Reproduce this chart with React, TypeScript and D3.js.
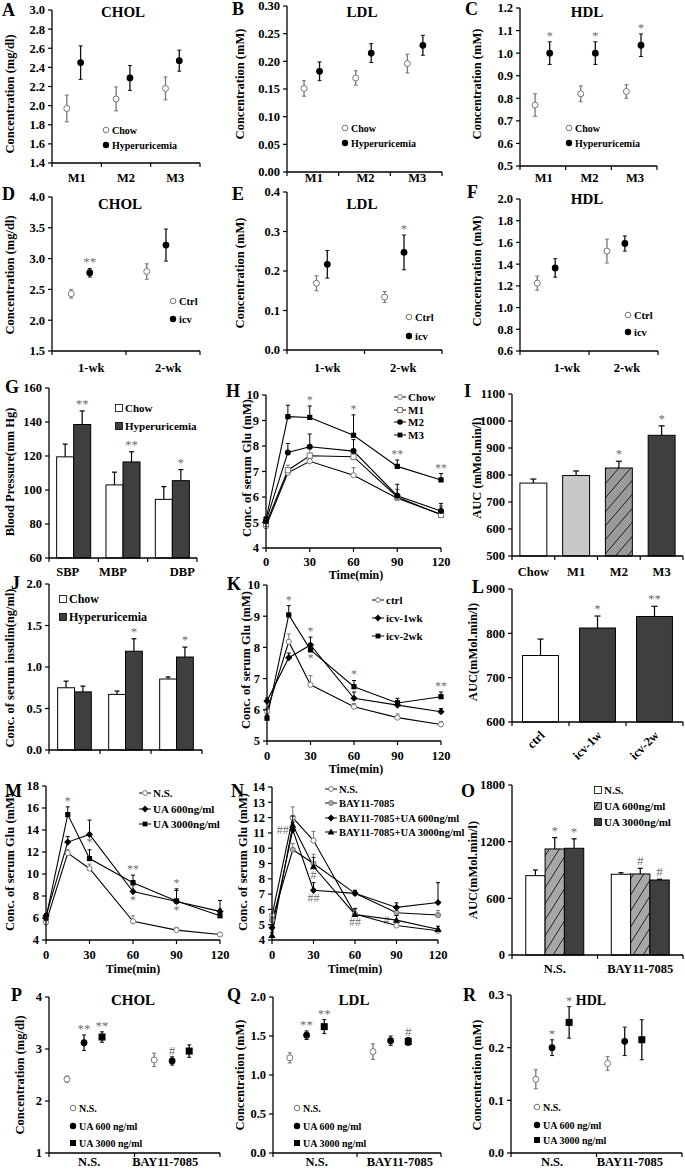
import React from "react";
import * as d3 from "d3";

const FONT = "'Liberation Serif','Times New Roman',Times,serif";

// ================= DATA =================
// Row 1 (A-C)
const catsM = ["M1", "M2", "M3"];
const aChow = [1.97, 2.07, 2.18];
const aChowErr = [0.14, 0.125, 0.12];
const aHyper = [2.45, 2.29, 2.47];
const aHyperErr = [0.175, 0.13, 0.11];
const aTicks = [1.4, 1.6, 1.8, 2.0, 2.2, 2.4, 2.6, 2.8, 3.0];

const bChow = [0.151, 0.17, 0.196];
const bChowErr = [0.014, 0.013, 0.017];
const bHyper = [0.182, 0.215, 0.229];
const bHyperErr = [0.017, 0.017, 0.018];
const bTicks = [0, 0.05, 0.1, 0.15, 0.2, 0.25, 0.3];

const cChow = [0.77, 0.82, 0.83];
const cChowErr = [0.05, 0.035, 0.03];
const cHyper = [1.0, 1.0, 1.035];
const cHyperErr = [0.05, 0.05, 0.05];
const cHyperStars = ["*", "*", "*"];
const cTicks = [0.5, 0.6, 0.7, 0.8, 0.9, 1.0, 1.1, 1.2];

// Row 2 (D-F)
const catsWk = ["1-wk", "2-wk"];
const dCtrl = [2.43, 2.79];
const dCtrlErr = [0.07, 0.125];
const dIcv = [2.77, 3.22];
const dIcvErr = [0.07, 0.26];
const dIcvStars = ["**", ""];
const dTicks = [1.5, 2.0, 2.5, 3.0, 3.5, 4.0];

const eCtrl = [0.169, 0.134];
const eCtrlErr = [0.019, 0.014];
const eIcv = [0.217, 0.247];
const eIcvErr = [0.035, 0.044];
const eIcvStars = ["", "*"];
const eTicks = [0, 0.1, 0.2, 0.3, 0.4];

const fCtrl = [1.225, 1.52];
const fCtrlErr = [0.065, 0.11];
const fIcv = [1.365, 1.59];
const fIcvErr = [0.085, 0.07];
const fTicks = [0.6, 0.8, 1.0, 1.2, 1.4, 1.6, 1.8, 2.0];

// Row 3 (G-I)
const catsBP = ["SBP", "MBP", "DBP"];
const gChow = [119.5, 103, 94.5];
const gChowErr = [7.5, 7.5, 7.5];
const gHyper = [138.5, 116.5, 105.5];
const gHyperErr = [8, 6, 6.5];
const gHyperStars = ["**", "**", "*"];
const gTicks = [60, 80, 100, 120, 140, 160];

const times = [0, 15, 30, 60, 90, 120];
const timeTicks = [0, 30, 60, 90, 120];
const hChow = [4.85, 6.95, 7.4, 6.85, 5.95, 5.32];
const hChowErr = [0.1, 0.15, 0.2, 0.3, 0.35, 0.35];
const hM1 = [4.95, 7.05, 7.62, 7.58, 6.0, 5.3];
const hM1Err = [0.1, 0.2, 0.3, 0.3, 0.3, 0.3];
const hM2 = [5.05, 7.75, 7.97, 7.8, 6.05, 5.45];
const hM2Err = [0.1, 0.35, 0.5, 0.45, 0.45, 0.3];
const hM3 = [5.12, 9.15, 9.12, 8.42, 7.2, 6.67];
const hM3Err = [0.1, 0.45, 0.45, 0.8, 0.25, 0.25];
const hTicks = [4, 5, 6, 7, 8, 9, 10];

const catsAUC = ["Chow", "M1", "M2", "M3"];
const iAUC = [770, 798, 826, 947];
const iAUCErr = [15, 17, 25, 35];
const iAUCStars = ["", "", "*", "*"];
const iTicks = [500, 600, 700, 800, 900, 1000, 1100];

// Row 4 (J-L)
const catsJ = ["a", "b", "c"];
const jChow = [0.75, 0.67, 0.855];
const jChowErr = [0.08, 0.04, 0.025];
const jHyper = [0.7, 1.19, 1.12];
const jHyperErr = [0.07, 0.15, 0.12];
const jHyperStars = ["", "*", "*"];
const jTicks = [0, 0.5, 1.0, 1.5, 2.0];

const kCtrl = [5.95, 8.18, 6.8, 6.1, 5.75, 5.53];
const kCtrlErr = [0.1, 0.25, 0.3, 0.1, 0.12, 0.1];
const kIcv1 = [6.28, 7.67, 8.08, 6.37, 6.15, 5.94];
const kIcv1Err = [0.1, 0.15, 0.25, 0.2, 0.15, 0.1];
const kIcv2 = [5.73, 9.04, 7.92, 6.74, 6.22, 6.42];
const kIcv2Err = [0.1, 0.3, 0.2, 0.2, 0.15, 0.15];
const kTicks = [5, 6, 7, 8, 9, 10];

const catsIcv = ["ctrl", "icv-1w", "icv-2w"];
const lAUC = [750, 812, 838];
const lAUCErr = [37, 27, 23];
const lAUCStars = ["", "*", "**"];
const lTicks = [600, 700, 800, 900];

// Row 5 (M-O)
const mNS = [5.6, 11.9, 10.5, 5.7, 4.9, 4.5];
const mNSErr = [0.1, 0.3, 0.4, 0.5, 0.25, 0.15];
const mUA600 = [6.2, 12.9, 13.6, 8.4, 7.5, 6.6];
const mUA600Err = [0.2, 0.5, 1.3, 1.0, 1.0, 1.0];
const mUA3000 = [6.0, 15.4, 11.4, 9.2, 7.55, 6.2];
const mUA3000Err = [0.2, 0.7, 0.8, 0.7, 1.1, 0.6];
const mTicks = [4, 6, 8, 10, 12, 14, 16, 18];

const nNS = [5.6, 12.0, 10.5, 5.7, 4.95, 4.6];
const nNSErr = [0.1, 0.7, 0.6, 0.3, 0.2, 0.15];
const nBay = [5.3, 9.9, 9.0, 7.05, 5.78, 5.63];
const nBayErr = [0.2, 0.4, 0.6, 0.2, 0.3, 0.3];
const nBay600 = [4.8, 11.2, 7.25, 7.05, 6.13, 6.45];
const nBay600Err = [0.2, 0.5, 0.5, 0.2, 0.3, 1.3];
const nBay3000 = [4.3, 11.5, 8.8, 5.67, 5.3, 4.7];
const nBay3000Err = [0.2, 0.6, 0.6, 0.4, 0.3, 0.2];
const nTicks = [4, 5, 6, 7, 8, 9, 10, 11, 12, 13, 14];

const catsBay = ["N.S.", "BAY11-7085"];
const oNS = [840, 855];
const oNSErr = [60, 17];
const oUA600 = [1123, 858];
const oUA600Err = [120, 60];
const oUA600Stars = ["*", "#"];
const oUA3000 = [1130, 794];
const oUA3000Err = [100, 8];
const oUA3000Stars = ["*", "#"];
const oTicks = [0, 600, 1200, 1800];

// Row 6 (P-R)
const pNS = [2.42, 2.79];
const pNSErr = [0.06, 0.13];
const pUA600 = [3.12, 2.77];
const pUA600Err = [0.15, 0.08];
const pUA600Stars = ["**", "#"];
const pUA3000 = [3.23, 2.96];
const pUA3000Err = [0.1, 0.12];
const pUA3000Stars = ["**", ""];
const pTicks = [1, 2, 3, 4];

const qNS = [1.22, 1.3];
const qNSErr = [0.065, 0.1];
const qUA600 = [1.51, 1.44];
const qUA600Err = [0.055, 0.06];
const qUA600Stars = ["**", ""];
const qUA3000 = [1.62, 1.43];
const qUA3000Err = [0.09, 0.05];
const qUA3000Stars = ["**", "#"];
const qTicks = [0, 0.5, 1.0, 1.5, 2.0];

const rNS = [0.14, 0.17];
const rNSErr = [0.018, 0.013];
const rUA600 = [0.2, 0.212];
const rUA600Err = [0.015, 0.027];
const rUA600Stars = ["*", ""];
const rUA3000 = [0.248, 0.215];
const rUA3000Err = [0.03, 0.038];
const rUA3000Stars = ["*", ""];
const rTicks = [0, 0.1, 0.2, 0.3];

// ================= DRAWING HELPERS =================
const f1 = d3.format(".1f");
const f2 = d3.format(".2f");
const fd = d3.format("d");

function Star({ x, y, text, fs = 13 }: { x: number; y: number; text: string; fs?: number }) {
  return (
    <text x={x} y={y} textAnchor="middle" fontSize={fs} fontWeight={400} fill="#000" fillOpacity={0.62}>
      {text}
    </text>
  );
}

function Mark({ t, x, y, r = 3 }: { t: string; x: number; y: number; r?: number }) {
  if (t === "oc") return <circle cx={x} cy={y} r={r} fill="#fff" stroke="#777" strokeWidth={1} />;
  if (t === "fc") return <circle cx={x} cy={y} r={r + 0.4} fill="#000" />;
  if (t === "os") return <rect x={x - r} y={y - r} width={2 * r} height={2 * r} fill="#fff" stroke="#777" strokeWidth={1} />;
  if (t === "fs") return <rect x={x - r} y={y - r} width={2 * r} height={2 * r} fill="#000" />;
  if (t === "gc") return <circle cx={x} cy={y} r={r} fill="#aaa" stroke="#777" strokeWidth={1} />;
  if (t === "di")
    return <path d={`M${x},${y - r - 1}L${x + r + 1},${y}L${x},${y + r + 1}L${x - r - 1},${y}Z`} fill="#000" />;
  return <path d={`M${x},${y - r - 1}L${x + r + 1},${y + r}L${x - r - 1},${y + r}Z`} fill="#000" />;
}

function YAxis({ x0, y, ticks, fmt, fs = 12.5 }: any) {
  const [lo, hi] = y.domain();
  return (
    <g>
      <line x1={x0} x2={x0} y1={y(hi)} y2={y(lo)} stroke="#000" strokeWidth={1.3} />
      {ticks.map((t: number) => (
        <g key={t}>
          <line x1={x0 - 4} x2={x0} y1={y(t)} y2={y(t)} stroke="#000" strokeWidth={1.2} />
          <text x={x0 - 7} y={y(t)} dy="0.35em" textAnchor="end" fontSize={fs}>
            {fmt(t)}
          </text>
        </g>
      ))}
    </g>
  );
}

function Decor({ c }: any) {
  return (
    <g>
      <text x={c.letterX} y={c.letterY} fontSize={18}>
        {c.letter}
      </text>
      {c.title && (
        <text x={c.titleX} y={c.titleY} fontSize={c.titleFs || 15} textAnchor="middle">
          {c.title}
        </text>
      )}
      <text
        transform={`translate(${c.yLabelX},${c.yLabelY}) rotate(-90)`}
        textAnchor="middle"
        dy="0.35em"
        fontSize={c.yLabelFs || 12.5}
      >
        {c.yLabel}
      </text>
    </g>
  );
}

// ---------- dot / error panel ----------
function DotPanel({ c }: any) {
  const x = d3.scaleLinear().domain([0, c.cats.length]).range([c.x0, c.x1]);
  const y = d3.scaleLinear().domain(c.domain).range([c.yBot, c.yTop]);
  return (
    <g>
      <Decor c={c} />
      <YAxis x0={c.x0} y={y} ticks={c.ticks} fmt={c.fmt} />
      <line x1={c.x0} x2={c.x1} y1={c.yBot} y2={c.yBot} stroke="#000" strokeWidth={1.3} />
      {d3.range(c.cats.length + 1).map((i) => (
        <line key={i} x1={x(i)} x2={x(i)} y1={c.yBot} y2={c.yBot + 4} stroke="#000" strokeWidth={1.2} />
      ))}
      {c.cats.map((cat: string, i: number) => (
        <text key={cat} x={x(c.catX[i])} y={c.catY} textAnchor="middle" fontSize={12.5}>
          {cat}
        </text>
      ))}
      {c.series.map((s: any) =>
        s.values.map((v: number, i: number) => {
          const cx = x(s.xs[i]);
          const col = s.marker === "oc" ? "#777" : "#111";
          const top = y(v + s.errs[i]);
          const bot = y(v - s.errs[i]);
          return (
            <g key={s.name + i}>
              <line x1={cx} x2={cx} y1={top} y2={bot} stroke={col} strokeWidth={1.3} />
              <line x1={cx - 2} x2={cx + 2} y1={top} y2={top} stroke={col} strokeWidth={1} />
              <line x1={cx - 2} x2={cx + 2} y1={bot} y2={bot} stroke={col} strokeWidth={1} />
              <Mark t={s.marker} x={cx} y={y(v)} r={s.marker === "fs" ? 3.5 : 3} />
              {s.stars && s.stars[i] && <Star x={cx} y={top - 2} text={s.stars[i]} />}
            </g>
          );
        })
      )}
      {c.series.map((s: any, k: number) => (
        <g key={"lg" + k}>
          <Mark t={s.marker} x={c.legendX} y={c.legendYs[k]} r={s.marker === "fs" ? 3 : 2.8} />
          <text x={c.legendX + 6} y={c.legendYs[k]} dy="0.35em" fontSize={c.legendFs || 10.5}>
            {s.name}
          </text>
        </g>
      ))}
    </g>
  );
}

// ---------- grouped bar panel ----------
function BarPanel({ c }: any) {
  const x = d3.scaleBand().domain(c.cats).range([c.x0, c.x1]);
  const y = d3.scaleLinear().domain(c.domain).range([c.yBot, c.yTop]);
  const bw = x.bandwidth() * c.barFrac;
  const n = c.series.length;
  const inner = d3
    .scaleBand()
    .domain(c.series.map((s: any) => s.name))
    .range([-(bw * n) / 2, (bw * n) / 2]);
  return (
    <g>
      <Decor c={c} />
      {c.series.map((s: any) =>
        s.values.map((v: number, i: number) => {
          const bx = (x(c.cats[i]) as number) + x.bandwidth() / 2 + (inner(s.name) as number);
          const cx = bx + bw / 2;
          const top = y(v + s.errs[i]);
          return (
            <g key={s.name + i}>
              <line x1={cx} x2={cx} y1={y(v)} y2={top} stroke="#000" strokeWidth={1.2} />
              <line x1={cx - 2.5} x2={cx + 2.5} y1={top} y2={top} stroke="#000" strokeWidth={1.2} />
              <rect x={bx} y={y(v)} width={bw} height={c.yBot - y(v)} fill={s.fill} stroke="#000" strokeWidth={1} />
              {s.stars && s.stars[i] && <Star x={cx} y={top - 3} text={s.stars[i]} />}
            </g>
          );
        })
      )}
      <YAxis x0={c.x0} y={y} ticks={c.ticks} fmt={c.fmt} />
      <line x1={c.x0} x2={c.x1} y1={c.yBot} y2={c.yBot} stroke="#000" strokeWidth={1.3} />
      {d3.range(c.cats.length + 1).map((i) => {
        const tx = c.x0 + i * x.step();
        return <line key={i} x1={tx} x2={tx} y1={c.yBot} y2={c.yBot + 4} stroke="#000" strokeWidth={1.2} />;
      })}
      {c.showCats &&
        c.cats.map((cat: string, i: number) => {
          const cx = (x(cat) as number) + x.bandwidth() / 2 + (c.catDx ? c.catDx[i] : 0);
          return (
            <text key={cat} x={cx} y={c.catY} textAnchor="middle" fontSize={12.5}>
              {cat}
            </text>
          );
        })}
      {c.legendX &&
        c.series.map((s: any, k: number) => (
          <g key={"lg" + k}>
            <rect
              x={c.legendX - 3.5}
              y={c.legendYs[k] - 3.5}
              width={7}
              height={7}
              fill={s.fill}
              stroke="#000"
              strokeWidth={0.8}
            />
            <text x={c.legendX + 6} y={c.legendYs[k]} dy="0.35em" fontSize={c.legendFs || 11}>
              {s.name}
            </text>
          </g>
        ))}
    </g>
  );
}

// ---------- single-series bar panel with per-bar fills ----------
function SingleBarPanel({ c, fills }: any) {
  const x = d3.scaleBand().domain(c.cats).range([c.x0, c.x1]);
  const y = d3.scaleLinear().domain(c.domain).range([c.yBot, c.yTop]);
  const bw = x.bandwidth() * c.barFrac;
  const s = c.series[0];
  return (
    <g>
      <Decor c={c} />
      {s.values.map((v: number, i: number) => {
        const cx = (x(c.cats[i]) as number) + x.bandwidth() / 2;
        const top = y(v + s.errs[i]);
        return (
          <g key={i}>
            <line x1={cx} x2={cx} y1={y(v)} y2={top} stroke="#000" strokeWidth={1.2} />
            <line x1={cx - 3} x2={cx + 3} y1={top} y2={top} stroke="#000" strokeWidth={1.2} />
            <rect x={cx - bw / 2} y={y(v)} width={bw} height={c.yBot - y(v)} fill={fills[i]} stroke="#000" strokeWidth={1} />
            {s.stars[i] && <Star x={cx} y={top - 3} text={s.stars[i]} />}
          </g>
        );
      })}
      <YAxis x0={c.x0} y={y} ticks={c.ticks} fmt={c.fmt} />
      <line x1={c.x0} x2={c.x1} y1={c.yBot} y2={c.yBot} stroke="#000" strokeWidth={1.3} />
      {d3.range(c.cats.length + 1).map((i) => {
        const tx = c.x0 + i * x.step();
        return <line key={i} x1={tx} x2={tx} y1={c.yBot} y2={c.yBot + 4} stroke="#000" strokeWidth={1.2} />;
      })}
      {c.cats.map((cat: string) => {
        const cx = (x(cat) as number) + x.bandwidth() / 2;
        if (c.rotate)
          return (
            <text key={cat} transform={`translate(${cx + 5},${c.catY}) rotate(-45)`} textAnchor="end" fontSize={12.5}>
              {cat}
            </text>
          );
        return (
          <text key={cat} x={cx} y={c.catY} textAnchor="middle" fontSize={12.5}>
            {cat}
          </text>
        );
      })}
    </g>
  );
}

// ---------- line panel ----------
function LinePanel({ c }: any) {
  const x = d3.scaleLinear().domain([0, 120]).range([c.x0, c.x1]);
  const y = d3.scaleLinear().domain(c.domain).range([c.yBot, c.yTop]);
  const line = d3
    .line<number>()
    .x((_, i) => x(times[i]))
    .y((d) => y(d));
  return (
    <g>
      <Decor c={c} />
      {c.series.map((s: any, k: number) => (
        <path key={"p" + k} d={line(s.values) as string} fill="none" stroke="#000" strokeWidth={1.1} />
      ))}
      {c.series.map((s: any, k: number) =>
        s.values.map((v: number, i: number) => {
          const cx = x(times[i]);
          const top = y(v + s.errs[i]);
          const col = s.marker === "oc" || s.marker === "os" || s.marker === "gc" ? "#777" : "#000";
          return (
            <g key={k + "_" + i}>
              <line x1={cx} x2={cx} y1={y(v)} y2={top} stroke={col} strokeWidth={1} />
              <line x1={cx - 2} x2={cx + 2} y1={top} y2={top} stroke={col} strokeWidth={1} />
              <Mark t={s.marker} x={cx} y={y(v)} r={2.6} />
            </g>
          );
        })
      )}
      {c.notes.map((a: any, i: number) => {
        const s = c.series[a.s];
        const v = s.values[a.i];
        const cx = x(times[a.i]);
        let ty = y(v + s.errs[a.i]) - 2;
        let tx = cx;
        if (a.pos === "below") ty = y(v) + 12;
        if (a.pos === "left") {
          tx = cx - 10;
          ty = y(v) + 4;
        }
        return <Star key={"n" + i} x={tx} y={ty} text={a.text} fs={12} />;
      })}
      <YAxis x0={c.x0} y={y} ticks={c.ticks} fmt={fd} />
      <line x1={c.x0} x2={c.x1} y1={c.yBot} y2={c.yBot} stroke="#000" strokeWidth={1.3} />
      {timeTicks.map((t) => (
        <g key={t}>
          <line x1={x(t)} x2={x(t)} y1={c.yBot} y2={c.yBot + 4} stroke="#000" strokeWidth={1.2} />
          <text x={x(t)} y={c.xLabY} textAnchor="middle" fontSize={12.5}>
            {t}
          </text>
        </g>
      ))}
      <text x={c.timeX} y={c.timeY} textAnchor="middle" fontSize={12}>
        Time(min)
      </text>
      {c.series.map((s: any, k: number) => (
        <g key={"lg" + k}>
          <line x1={c.legendX - 6} x2={c.legendX + 6} y1={c.legendYs[k]} y2={c.legendYs[k]} stroke="#000" strokeWidth={1} />
          <Mark t={s.marker} x={c.legendX} y={c.legendYs[k]} r={2.4} />
          <text x={c.legendX + 8} y={c.legendYs[k]} dy="0.35em" fontSize={c.legendFs || 11}>
            {s.name}
          </text>
        </g>
      ))}
    </g>
  );
}

// ================= PANEL CONFIGS (layout) =================
const concMg = "Concentration (mg/dl)";
const concMM = "Concentration (mM)";
const glu = "Conc. of serum Glu (mM)";

const panelA = {
  letter: "A", letterX: 2, letterY: 16, title: "CHOL", titleX: 123, titleY: 17,
  yLabel: concMg, yLabelX: 10, yLabelY: 94,
  x0: 52, x1: 200, yTop: 10, yBot: 163, domain: [1.4, 3.0], ticks: aTicks, fmt: f1,
  cats: catsM, catX: [0.5, 1.5, 2.5], catY: 182, legendX: 106, legendYs: [130, 145], legendFs: 10,
  series: [
    { name: "Chow", values: aChow, errs: aChowErr, marker: "oc", xs: [0.3, 1.3, 2.3] },
    { name: "Hyperuricemia", values: aHyper, errs: aHyperErr, marker: "fc", xs: [0.58, 1.58, 2.58] },
  ],
};
const panelB = {
  letter: "B", letterX: 232, letterY: 15, title: "LDL", titleX: 362, titleY: 17,
  yLabel: concMM, yLabelX: 240, yLabelY: 84,
  x0: 287, x1: 442, yTop: 6, yBot: 172, domain: [0, 0.3], ticks: bTicks, fmt: f2,
  cats: catsM, catX: [0.52, 1.52, 2.52], catY: 182, legendX: 345, legendYs: [128, 143], legendFs: 10,
  series: [
    { name: "Chow", values: bChow, errs: bChowErr, marker: "oc", xs: [0.33, 1.33, 2.33] },
    { name: "Hyperuricemia", values: bHyper, errs: bHyperErr, marker: "fc", xs: [0.63, 1.63, 2.63] },
  ],
};
const panelC = {
  letter: "C", letterX: 465, letterY: 15, title: "HDL", titleX: 587, titleY: 17,
  yLabel: concMM, yLabelX: 477, yLabelY: 84,
  x0: 520, x1: 657, yTop: 8, yBot: 166, domain: [0.5, 1.2], ticks: cTicks, fmt: f1,
  cats: catsM, catX: [0.52, 1.52, 2.52], catY: 182, legendX: 569, legendYs: [128, 143], legendFs: 10,
  series: [
    { name: "Chow", values: cChow, errs: cChowErr, marker: "oc", xs: [0.33, 1.33, 2.33] },
    { name: "Hyperuricemia", values: cHyper, errs: cHyperErr, marker: "fc", xs: [0.65, 1.65, 2.65], stars: cHyperStars },
  ],
};
const panelD = {
  letter: "D", letterX: 2, letterY: 200, title: "CHOL", titleX: 120, titleY: 209,
  yLabel: concMg, yLabelX: 10, yLabelY: 275,
  x0: 52, x1: 200, yTop: 197, yBot: 351, domain: [1.5, 4.0], ticks: dTicks, fmt: f1,
  cats: catsWk, catX: [0.53, 1.57], catY: 372, legendX: 173, legendYs: [301, 319], legendFs: 10.5,
  series: [
    { name: "Ctrl", values: dCtrl, errs: dCtrlErr, marker: "oc", xs: [0.26, 1.28] },
    { name: "icv", values: dIcv, errs: dIcvErr, marker: "fc", xs: [0.51, 1.54], stars: dIcvStars },
  ],
};
const panelE = {
  letter: "E", letterX: 232, letterY: 200, title: "LDL", titleX: 362, titleY: 209,
  yLabel: concMM, yLabelX: 240, yLabelY: 273,
  x0: 287, x1: 442, yTop: 192, yBot: 350, domain: [0, 0.4], ticks: eTicks, fmt: f1,
  cats: catsWk, catX: [0.52, 1.5], catY: 372, legendX: 409, legendYs: [317, 336], legendFs: 10.5,
  series: [
    { name: "Ctrl", values: eCtrl, errs: eCtrlErr, marker: "oc", xs: [0.38, 1.26] },
    { name: "icv", values: eIcv, errs: eIcvErr, marker: "fc", xs: [0.52, 1.51], stars: eIcvStars },
  ],
};
const panelF = {
  letter: "F", letterX: 467, letterY: 198, title: "HDL", titleX: 587, titleY: 204,
  yLabel: concMM, yLabelX: 477, yLabelY: 271,
  x0: 520, x1: 658, yTop: 199, yBot: 351, domain: [0.6, 2.0], ticks: fTicks, fmt: f1,
  cats: catsWk, catX: [0.68, 1.55], catY: 372, legendX: 628, legendYs: [315, 332], legendFs: 10.5,
  series: [
    { name: "Ctrl", values: fCtrl, errs: fCtrlErr, marker: "oc", xs: [0.25, 1.26] },
    { name: "icv", values: fIcv, errs: fIcvErr, marker: "fc", xs: [0.51, 1.52] },
  ],
};
const panelG = {
  letter: "G", letterX: 5, letterY: 393, yLabel: "Blood Pressure(mm Hg)", yLabelX: 10, yLabelY: 472,
  x0: 49, x1: 197, yTop: 388, yBot: 558, domain: [60, 160], ticks: gTicks, fmt: fd,
  cats: catsBP, showCats: true, catDx: [-6, -10, 10], catY: 576, barFrac: 0.345,
  legendX: 119, legendYs: [408, 426], legendFs: 11,
  series: [
    { name: "Chow", values: gChow, errs: gChowErr, fill: "#fff" },
    { name: "Hyperuricemia", values: gHyper, errs: gHyperErr, fill: "#3f3f3f", stars: gHyperStars },
  ],
};
const panelH = {
  letter: "H", letterX: 226, letterY: 397, yLabel: glu, yLabelX: 247, yLabelY: 468,
  x0: 266, x1: 441, yTop: 395, yBot: 548, domain: [4, 10], ticks: hTicks,
  xLabY: 566, timeX: 356, timeY: 579, legendX: 400, legendYs: [397, 410, 422, 435], legendFs: 11,
  series: [
    { name: "Chow", values: hChow, errs: hChowErr, marker: "oc" },
    { name: "M1", values: hM1, errs: hM1Err, marker: "os" },
    { name: "M2", values: hM2, errs: hM2Err, marker: "fc" },
    { name: "M3", values: hM3, errs: hM3Err, marker: "fs" },
  ],
  notes: [
    { s: 3, i: 2, text: "*" },
    { s: 3, i: 3, text: "*" },
    { s: 3, i: 4, text: "**" },
    { s: 3, i: 5, text: "**" },
  ],
};
const panelI = {
  letter: "I", letterX: 464, letterY: 397, yLabel: "AUC (mMol.min/l)", yLabelX: 477, yLabelY: 468,
  x0: 512, x1: 683, yTop: 394, yBot: 556, domain: [500, 1100], ticks: iTicks, fmt: fd,
  cats: catsAUC, catY: 576, barFrac: 0.63,
  series: [{ name: "AUC", values: iAUC, errs: iAUCErr, stars: iAUCStars }],
};
const panelJ = {
  letter: "J", letterX: 11, letterY: 589, yLabel: "Conc. of serum insulin(ng/ml)", yLabelX: 10, yLabelY: 668,
  x0: 49, x1: 202, yTop: 584, yBot: 750, domain: [0, 2.0], ticks: jTicks, fmt: f1,
  cats: catsJ, showCats: false, barFrac: 0.33, legendX: 63, legendYs: [599, 617], legendFs: 12,
  series: [
    { name: "Chow", values: jChow, errs: jChowErr, fill: "#fff" },
    { name: "Hyperuricemia", values: jHyper, errs: jHyperErr, fill: "#3f3f3f", stars: jHyperStars },
  ],
};
const panelK = {
  letter: "K", letterX: 227, letterY: 590, yLabel: glu, yLabelX: 246, yLabelY: 660,
  x0: 267, x1: 441, yTop: 585, yBot: 741, domain: [5, 10], ticks: kTicks,
  xLabY: 760, timeX: 356, timeY: 773, legendX: 378, legendYs: [600, 618, 636], legendFs: 11,
  series: [
    { name: "ctrl", values: kCtrl, errs: kCtrlErr, marker: "oc" },
    { name: "icv-1wk", values: kIcv1, errs: kIcv1Err, marker: "di" },
    { name: "icv-2wk", values: kIcv2, errs: kIcv2Err, marker: "fs" },
  ],
  notes: [
    { s: 2, i: 1, text: "*" },
    { s: 1, i: 2, text: "*" },
    { s: 2, i: 2, text: "*", pos: "below" },
    { s: 2, i: 3, text: "*" },
    { s: 2, i: 5, text: "**" },
  ],
};
const panelL = {
  letter: "L", letterX: 472, letterY: 593, yLabel: "AUC(mMol.min/l)", yLabelX: 473, yLabelY: 652,
  x0: 512, x1: 683, yTop: 589, yBot: 722, domain: [600, 900], ticks: lTicks, fmt: fd,
  cats: catsIcv, rotate: true, catY: 736, barFrac: 0.63,
  series: [{ name: "AUC", values: lAUC, errs: lAUCErr, stars: lAUCStars }],
};
const panelM = {
  letter: "M", letterX: 5, letterY: 797, yLabel: glu, yLabelX: 10, yLabelY: 862,
  x0: 46, x1: 220, yTop: 786, yBot: 940, domain: [4, 18], ticks: mTicks,
  xLabY: 959, timeX: 133, timeY: 973, legendX: 145, legendYs: [793, 809, 824], legendFs: 11,
  series: [
    { name: "N.S.", values: mNS, errs: mNSErr, marker: "oc" },
    { name: "UA 600ng/ml", values: mUA600, errs: mUA600Err, marker: "di" },
    { name: "UA 3000ng/ml", values: mUA3000, errs: mUA3000Err, marker: "fs" },
  ],
  notes: [
    { s: 2, i: 1, text: "*" },
    { s: 1, i: 2, text: "*", pos: "below" },
    { s: 2, i: 3, text: "**" },
    { s: 1, i: 3, text: "*", pos: "below" },
    { s: 2, i: 4, text: "*" },
    { s: 1, i: 4, text: "*", pos: "below" },
  ],
};
const panelN = {
  letter: "N", letterX: 231, letterY: 797, yLabel: glu, yLabelX: 243, yLabelY: 862,
  x0: 272, x1: 438, yTop: 787, yBot: 940, domain: [4, 14], ticks: nTicks,
  xLabY: 959, timeX: 355, timeY: 973, legendX: 331, legendYs: [789, 803, 818, 832], legendFs: 10.5,
  series: [
    { name: "N.S.", values: nNS, errs: nNSErr, marker: "oc" },
    { name: "BAY11-7085", values: nBay, errs: nBayErr, marker: "gc" },
    { name: "BAY11-7085+UA 600ng/ml", values: nBay600, errs: nBay600Err, marker: "di" },
    { name: "BAY11-7085+UA 3000ng/ml", values: nBay3000, errs: nBay3000Err, marker: "tr" },
  ],
  notes: [
    { s: 2, i: 1, text: "##", pos: "left" },
    { s: 3, i: 2, text: "#", pos: "below" },
    { s: 2, i: 2, text: "##", pos: "below" },
    { s: 3, i: 3, text: "##", pos: "below" },
    { s: 3, i: 4, text: "#", pos: "left" },
  ],
};
const panelO = {
  letter: "O", letterX: 461, letterY: 797, yLabel: "AUC(mMol.min/l)", yLabelX: 473, yLabelY: 870,
  x0: 512, x1: 683, yTop: 785, yBot: 955, domain: [0, 1800], ticks: oTicks, fmt: fd,
  cats: catsBay, showCats: true, catY: 973, barFrac: 0.226, legendX: 598, legendYs: [790, 806, 822], legendFs: 11,
  series: [
    { name: "N.S.", values: oNS, errs: oNSErr, fill: "#fff" },
    { name: "UA 600ng/ml", values: oUA600, errs: oUA600Err, fill: "url(#hatchO)", stars: oUA600Stars },
    { name: "UA 3000ng/ml", values: oUA3000, errs: oUA3000Err, fill: "#3f3f3f", stars: oUA3000Stars },
  ],
};
const panelP = {
  letter: "P", letterX: 11, letterY: 1001, title: "CHOL", titleX: 133, titleY: 1005,
  yLabel: concMg, yLabelX: 20, yLabelY: 1075,
  x0: 49, x1: 220, yTop: 997, yBot: 1153, domain: [1, 4], ticks: pTicks, fmt: fd,
  cats: catsBay, catX: [0.47, 1.36], catY: 1166, legendX: 73, legendYs: [1108, 1126, 1143], legendFs: 10,
  series: [
    { name: "N.S.", values: pNS, errs: pNSErr, marker: "oc", xs: [0.21, 1.23] },
    { name: "UA 600 ng/ml", values: pUA600, errs: pUA600Err, marker: "fc", xs: [0.41, 1.44], stars: pUA600Stars },
    { name: "UA 3000 ng/ml", values: pUA3000, errs: pUA3000Err, marker: "fs", xs: [0.62, 1.64], stars: pUA3000Stars },
  ],
};
const panelQ = {
  letter: "Q", letterX: 227, letterY: 1001, title: "LDL", titleX: 354, titleY: 1005,
  yLabel: concMM, yLabelX: 240, yLabelY: 1075,
  x0: 273, x1: 441, yTop: 997, yBot: 1153, domain: [0, 2.0], ticks: qTicks, fmt: f1,
  cats: catsBay, catX: [0.52, 1.51], catY: 1166, legendX: 297, legendYs: [1108, 1126, 1143], legendFs: 10,
  series: [
    { name: "N.S.", values: qNS, errs: qNSErr, marker: "oc", xs: [0.2, 1.19] },
    { name: "UA 600 ng/ml", values: qUA600, errs: qUA600Err, marker: "fc", xs: [0.4, 1.4], stars: qUA600Stars },
    { name: "UA 3000 ng/ml", values: qUA3000, errs: qUA3000Err, marker: "fs", xs: [0.61, 1.61], stars: qUA3000Stars },
  ],
};
const panelR = {
  letter: "R", letterX: 463, letterY: 1001, title: "HDL", titleX: 591, titleY: 1005, titleFs: 14,
  yLabel: concMM, yLabelX: 477, yLabelY: 1075,
  x0: 511, x1: 682, yTop: 995, yBot: 1153, domain: [0, 0.3], ticks: rTicks, fmt: f1,
  cats: catsBay, catX: [0.48, 1.39], catY: 1166, legendX: 537, legendYs: [1107, 1125, 1140], legendFs: 10,
  series: [
    { name: "N.S.", values: rNS, errs: rNSErr, marker: "oc", xs: [0.29, 1.13] },
    { name: "UA 600 ng/ml", values: rUA600, errs: rUA600Err, marker: "fc", xs: [0.48, 1.33], stars: rUA600Stars },
    { name: "UA 3000 ng/ml", values: rUA3000, errs: rUA3000Err, marker: "fs", xs: [0.68, 1.53], stars: rUA3000Stars },
  ],
};

// per-bar fills for single-series bar panels (style)
const iFills = ["#ffffff", "#c8c8c8", "url(#hatchI)", "#3f3f3f"];
const lFills = ["#ffffff", "#3f3f3f", "#3f3f3f"];

export default function App() {
  return (
    <svg
      width={685}
      height={1170}
      viewBox="0 0 685 1170"
      style={{ position: "absolute", left: 0, top: 0, background: "#fff" }}
      fontFamily={FONT}
      fontWeight={700}
    >
      <defs>
        <pattern id="hatchI" width="12" height="14" patternUnits="userSpaceOnUse">
          <rect width="12" height="14" fill="#9a9a9a" />
          <path d="M0,14 L12,0 M-3,3.5 L3,-3.5 M9,17.5 L15,10.5" stroke="#000" strokeWidth="0.8" />
        </pattern>
        <pattern id="hatchO" width="10" height="16" patternUnits="userSpaceOnUse">
          <rect width="10" height="16" fill="#a8a8a8" />
          <path d="M0,16 L10,0 M-2,3.2 L2,-3.2 M8,19.2 L12,12.8" stroke="#000" strokeWidth="0.8" />
        </pattern>
      </defs>
      <rect width={685} height={1170} fill="#fff" />
      <DotPanel c={panelA} />
      <DotPanel c={panelB} />
      <DotPanel c={panelC} />
      <DotPanel c={panelD} />
      <DotPanel c={panelE} />
      <DotPanel c={panelF} />
      <BarPanel c={panelG} />
      <LinePanel c={panelH} />
      <SingleBarPanel c={panelI} fills={iFills} />
      <BarPanel c={panelJ} />
      <LinePanel c={panelK} />
      <SingleBarPanel c={panelL} fills={lFills} />
      <LinePanel c={panelM} />
      <LinePanel c={panelN} />
      <BarPanel c={panelO} />
      <DotPanel c={panelP} />
      <DotPanel c={panelQ} />
      <DotPanel c={panelR} />
    </svg>
  );
}
